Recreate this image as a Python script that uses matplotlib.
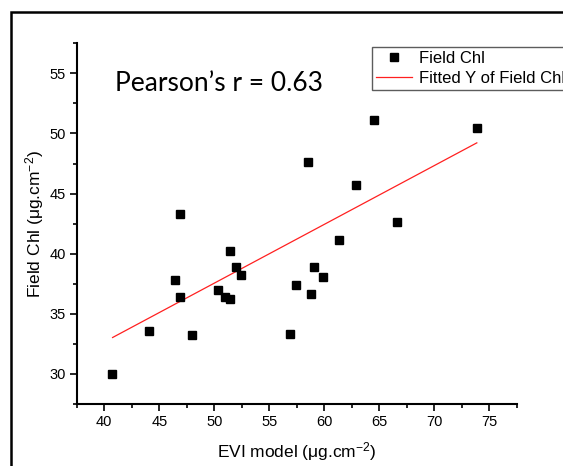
import numpy as np
import matplotlib
matplotlib.use("Agg")
import matplotlib.pyplot as plt
from matplotlib.patches import Rectangle
from matplotlib.ticker import MultipleLocator

# データ
evi_model = [40.70, 44.08, 46.42, 46.87, 46.90, 47.93, 50.32, 51.01, 51.47, 51.47,
             51.95, 52.47, 56.85, 57.40, 58.55, 58.76, 59.06, 59.85, 61.36, 62.84,
             64.50, 66.59, 73.85]
field_chl = [30.00, 33.53, 37.83, 43.33, 36.44, 33.22, 36.94, 36.44, 36.22, 40.25,
             38.86, 38.25, 33.31, 37.39, 47.64, 36.61, 38.89, 38.03, 41.11, 45.75,
             51.14, 42.64, 50.44]
# 回帰直線（図の端点から読み取り）
fit_x = [40.76, 73.85]
fit_y = [33.03, 49.22]
pearson_label = "Pearson\u2019s r = 0.63"

plt.rcParams["font.family"] = ["Liberation Sans", "DejaVu Sans"]
plt.rcParams["mathtext.fontset"] = "custom"
plt.rcParams["mathtext.rm"] = "Liberation Sans"
plt.rcParams["mathtext.default"] = "regular"

W, H = 563, 466
fig = plt.figure(figsize=(W / 100, H / 100), dpi=100)
ax = fig.add_axes([76.7 / W, 1 - 404 / H, (517 - 76.7) / W, (404 - 43.3) / H])

ax.plot(evi_model, field_chl, "s", color="black", markersize=5.3,
        label="Field Chl", zorder=3)
ax.plot(fit_x, fit_y, color="#ff2020", linewidth=0.9,
        label="Fitted Y of Field Chl", zorder=2)

ax.set_xlim(37.5, 77.5)
ax.set_ylim(27.5, 57.5)
ax.xaxis.set_major_locator(MultipleLocator(5))
ax.xaxis.set_minor_locator(MultipleLocator(2.5))
ax.yaxis.set_major_locator(MultipleLocator(5))
ax.yaxis.set_minor_locator(MultipleLocator(2.5))

for s in ["top", "right"]:
    ax.spines[s].set_visible(False)
for s in ["left", "bottom"]:
    ax.spines[s].set_linewidth(1.5)
ax.tick_params(which="major", direction="out", length=5, width=1.2,
               labelsize=10.5, pad=3)
ax.tick_params(which="minor", direction="out", length=3, width=1.2)

ax.set_xlabel("EVI model (\u03bcg.cm$^{-2}$)", fontsize=12.5, labelpad=8)
ax.set_ylabel("Field Chl (\u03bcg.cm$^{-2}$)", fontsize=12.5, labelpad=2)

ax.text(115 / W, 1 - 90.7 / H, pearson_label, transform=fig.transFigure,
        fontsize=19, family=["Lato", "DejaVu Sans"], va="baseline", ha="left")

leg = ax.legend(loc="upper left", bbox_to_anchor=(371.6 / W, 1 - 46.7 / H),
                bbox_transform=fig.transFigure, fontsize=12, frameon=True,
                fancybox=False, borderpad=0.25, handlelength=2.2,
                handletextpad=0.4, labelspacing=0.3, borderaxespad=0,
                markerscale=1.0)
leg.get_frame().set_edgecolor("#333333")
leg.get_frame().set_linewidth(1.0)

# 外枠
fig.patches.append(Rectangle((10.8 / W, -0.2), 1.2, 1.2 - 11.7 / H,
                             transform=fig.transFigure, fill=False,
                             edgecolor="black", linewidth=1.8))

fig.savefig("out.png", dpi=100)
